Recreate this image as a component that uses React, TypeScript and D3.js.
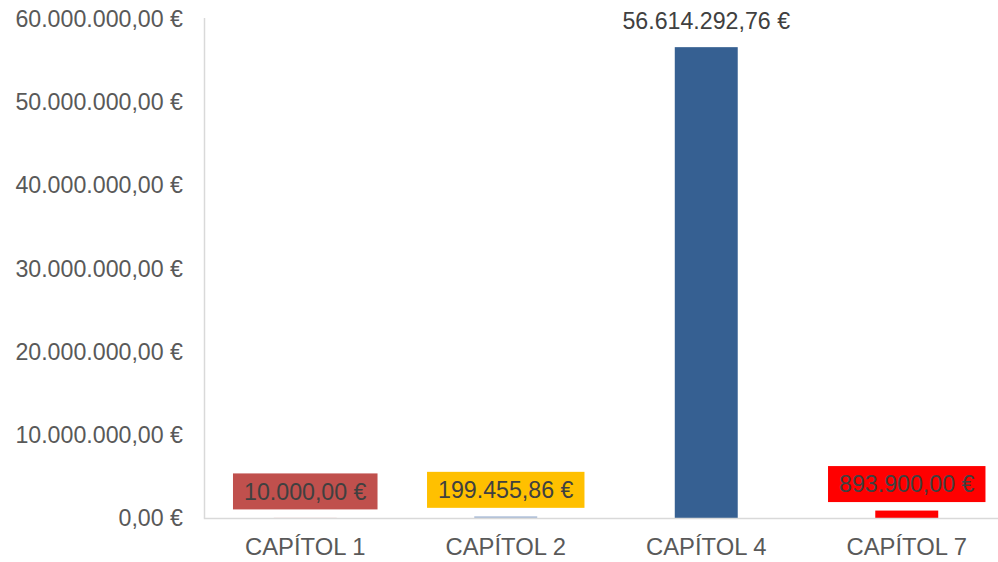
import React from "react";
import * as d3 from "d3";

const categories = ["CAPÍTOL 1", "CAPÍTOL 2", "CAPÍTOL 4", "CAPÍTOL 7"];
const values = [10000, 199455.86, 56614292.76, 893900];
const barColors = ["#C0504D", "#A9BBD6", "#366092", "#FF0000"];
const labelBgColors = ["#C0504D", "#FFC000", null, "#FF0000"];
const yTicks = [0, 10000000, 20000000, 30000000, 40000000, 50000000, 60000000];

const W = 998;
const H = 562;
const FONT = "'Liberation Sans', Arial, sans-serif";
const FS = 23.2;
const FS_CAT = 23.8;

const fmtLocale = d3.formatLocale({
  decimal: ",",
  thousands: ".",
  grouping: [3],
  currency: ["", " €"],
});
const fmt = (v: number) => fmtLocale.format(",.2f")(v) + " €";

function textWidth(s: string): number {
  let w = 0;
  for (const ch of s) {
    if (/[0-9€]/.test(ch)) w += 0.556;
    else if (ch === "." || ch === "," || ch === " ") w += 0.278;
    else w += 0.6;
  }
  return w * FS;
}

export default function App() {
  const x = d3
    .scaleBand<string>()
    .domain(categories)
    .range([205, 1007])
    .paddingInner(0.686)
    .paddingOuter(0.343);
  const y = d3.scaleLinear().domain([0, 60000000]).range([518, 19]);
  const axisX = 204.5;

  return (
    <svg
      width={W}
      height={H}
      style={{ position: "absolute", left: 0, top: 0, background: "#fff" }}
      fontFamily={FONT}
    >
      {yTicks.map((t) => (
        <text
          key={t}
          x={183}
          y={y(t)}
          dy="0.35em"
          textAnchor="end"
          fontSize={FS}
          fill="#595959"
        >
          {fmt(t)}
        </text>
      ))}
      {categories.map((c, i) => {
        const top = y(values[i]);
        return (
          <rect
            key={c}
            x={x(c)!}
            y={top}
            width={x.bandwidth()}
            height={Math.max(0, y(0) - top)}
            fill={barColors[i]}
          />
        );
      })}
      <line x1={axisX} x2={axisX} y1={18} y2={518} stroke="#D9D9D9" strokeWidth={1.5} />
      <line x1={axisX - 0.75} x2={W} y1={518.5} y2={518.5} stroke="#D9D9D9" strokeWidth={1.5} />
      {categories.map((c) => (
        <text
          key={c}
          x={x(c)! + x.bandwidth() / 2}
          y={547}
          dy="0.35em"
          textAnchor="middle"
          fontSize={FS_CAT}
          fill="#595959"
        >
          {c}
        </text>
      ))}
      {categories.map((c, i) => {
        const cx = x(c)! + x.bandwidth() / 2;
        const top = y(values[i]);
        const cy = top - 26.5;
        const label = fmt(values[i]);
        const tw = textWidth(label);
        const bg = labelBgColors[i];
        return (
          <g key={c}>
            {bg && (
              <rect x={cx - tw / 2 - 11} y={cy - 18} width={tw + 22} height={36} fill={bg} />
            )}
            <text x={cx} y={cy} dy="0.35em" textAnchor="middle" fontSize={FS} fill="#404040">
              {label}
            </text>
          </g>
        );
      })}
    </svg>
  );
}
